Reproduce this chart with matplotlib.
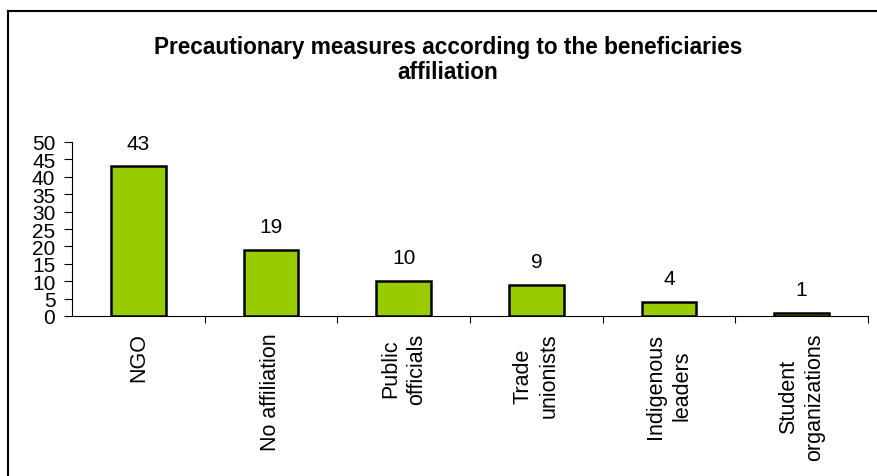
import matplotlib
matplotlib.use("Agg")
import matplotlib.pyplot as plt
from matplotlib.lines import Line2D

plt.rcParams['font.family'] = ['Liberation Sans', 'DejaVu Sans']

categories = ["NGO", "No affiliation", "Public\nofficials", "Trade\nunionists",
              "Indigenous\nleaders", "Student\norganizations"]
values = [43, 19, 10, 9, 4, 1]
yticks = [0, 5, 10, 15, 20, 25, 30, 35, 40, 45, 50]
title = "Precautionary measures according to the beneficiaries\naffiliation"

W, H = 878, 477
fig = plt.figure(figsize=(W / 100, H / 100), dpi=100)

# outer frame lines (top and left)
fig.add_artist(Line2D([8 / W, 1.0], [1 - 11.5 / H, 1 - 11.5 / H], color='black', lw=1.5,
                      transform=fig.transFigure))
fig.add_artist(Line2D([8 / W, 8 / W], [0, 1 - 11.5 / H], color='black', lw=1.5,
                      transform=fig.transFigure))

ax = fig.add_axes([72 / W, 1 - 317 / H, (868 - 72) / W, (317 - 143) / H])
x = list(range(len(categories)))
bars = ax.bar(x, values, width=0.41, color='#99CC00', edgecolor='black', linewidth=1.8)

for xi, v in zip(x, values):
    ax.text(xi, v + 6.7, str(v), ha='center', va='center', fontsize=15)

ax.set_xlim(-0.5, len(categories) - 0.5)
ax.set_ylim(0, 50)
ax.set_yticks(yticks)
ax.set_yticklabels([str(t) for t in yticks], fontsize=15)
ax.tick_params(axis='y', direction='out', length=6, width=0.8, pad=6)

ax.set_xticks([i + 0.5 for i in x])
ax.set_xticklabels([])
ax.tick_params(axis='x', direction='out', length=5, width=0.8)

for xi, lab in zip(x, categories):
    ax.text(xi, -0.095, lab, transform=ax.get_xaxis_transform(), rotation=90,
            ha='center', va='top', multialignment='center', fontsize=15.5,
            linespacing=1.32)

for s in ['top', 'right']:
    ax.spines[s].set_visible(False)
ax.spines['left'].set_linewidth(0.8)
ax.spines['bottom'].set_linewidth(0.8)

fig.text(448 / W, 1 - 60 / H, title, ha='center', va='center', fontsize=16.3,
         fontweight='bold', linespacing=1.15)

fig.savefig("out.png", dpi=100)
